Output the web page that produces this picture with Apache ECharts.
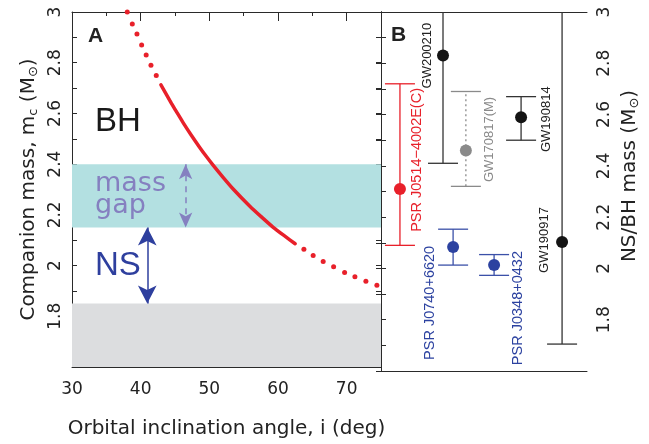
<!DOCTYPE html>
<html><head><meta charset="utf-8">
<script src="https://cdn.jsdelivr.net/npm/echarts@6/dist/echarts.min.js"></script>
<style>html,body{margin:0;padding:0;background:#fff}#c{width:649px;height:444px}</style>
</head><body><div id="c"></div>
<script>
// ---- Panel A data ----
const xTicksA = [30, 40, 50, 60, 70];
const yTickLabels = [1.8, 2, 2.2, 2.4, 2.6, 2.8, 3];
const massGapBand = [2.15, 2.4];
const excludedBand = [1.6, 1.85];
const nsRange = [1.85, 2.15];
const curveUpperDotted = [[38.05,3.0],[38.78,2.953],[39.46,2.913],[40.14,2.87],[40.8,2.83],[41.5,2.79],[42.27,2.75]];
const curveSolid = [[42.95,2.713],[44.5,2.639],[45.3,2.603],[46.2,2.563],[47.4,2.513],[48.6,2.466],[49.6,2.429],[50.6,2.394],[52.0,2.348],[53.5,2.301],[55.9,2.234],[57.5,2.194],[59.3,2.151],[61.0,2.116],[62.5,2.086]];
const curveLowerDotted = [[63.77,2.064],[65.12,2.04],[66.58,2.016],[68.1,1.995],[69.7,1.973],[71.2,1.956],[72.8,1.938],[74.4,1.922]];
const gapArrowX = 46.55;
const nsArrowX = 40.96;

// ---- Panel B data ----
const objNames = ['PSR J0514\u22124002E(C)','GW200210','GW170817(M)','PSR J0740+6620','PSR J0348+0432','GW190814','GW190917'];
const objType  = ['psrC','gw','gwM','psr','psr','gw','gw'];
const objPos   = [9.2, 30.1, 41.2, 35.0, 54.9, 68.0, 87.9];
const objMass  = [2.31, 2.83, 2.46, 2.084, 2.013, 2.59, 2.103];
const objLow   = [2.09, 2.41, 2.32, 2.013, 1.973, 2.50, 1.705];
const objHigh  = [2.72, 3.30, 2.69, 2.153, 2.054, 2.67, 3.60];

// ---- styles / layout (not data) ----
const FONT = 'Liberation Sans';
const TFONT = 'DejaVu Sans';
const typeStyle = {
  psrC: {mark:'#e8202a', bar:'#e8202a', text:'#e8202a', dash:null, fs:14.5},
  gw:   {mark:'#141414', bar:'#333333', text:'#222222', dash:null, fs:13},
  gwM:  {mark:'#8a8a8a', bar:'#8a8a8a', text:'#8a8a8a', dash:[2,3], fs:13},
  psr:  {mark:'#2c42a0', bar:'#3b50a8', text:'#2c42a0', dash:null, fs:14.5}
};
// label offsets in pixels relative to the marker
const labelOffset = [[17.5,-29],[-16,0],[24,-11],[-23,56],[24,43],[25,2],[-18,-2]];

const axisColor = '#2a2a2a';
const chart = echarts.init(document.getElementById('c'), null, {renderer:'canvas'});

const yBase = {
  min:1.6, max:3, interval:0.2, type:'value',
  axisLine:{show:true, lineStyle:{color:axisColor, width:1}},
  axisTick:{show:true, inside:true, length:5, lineStyle:{color:axisColor}},
  minorTick:{show:true, splitNumber:2, length:5, lineStyle:{color:axisColor}},
  splitLine:{show:false}, minorSplitLine:{show:false}
};
const yFmt = v=>{const r=Math.round(v*10)/10; return yTickLabels.includes(r)?String(r):'';};

const option = {
  animation:false,
  textStyle:{fontFamily:FONT},
  grid:[{left:72, top:12, width:309, height:359}, {left:381, top:12, width:206, height:359}],
  xAxis:[
    {gridIndex:0, type:'value', min:30, max:75, interval:10, position:'bottom',
     axisLine:{lineStyle:{color:axisColor}},
     axisTick:{inside:true, length:9, lineStyle:{color:axisColor}},
     minorTick:{show:true, splitNumber:2, length:4, lineStyle:{color:axisColor}},
     splitLine:{show:false},
     axisLabel:{fontSize:17, color:'#222', margin:14, showMaxLabel:false, fontFamily:TFONT,
       formatter:v=> xTicksA.includes(v) ? String(v) : ''},
     name:'Orbital inclination angle, i (deg)', nameLocation:'middle', nameGap:52,
     nameTextStyle:{fontSize:20, color:'#222', fontFamily:TFONT}},
    {gridIndex:0, type:'value', min:30, max:75, interval:10, position:'top',
     axisLine:{lineStyle:{color:axisColor}},
     axisTick:{inside:true, length:9, lineStyle:{color:axisColor}},
     minorTick:{show:true, splitNumber:2, length:4, lineStyle:{color:axisColor}},
     splitLine:{show:false}, axisLabel:{show:false}},
    {gridIndex:1, type:'value', min:0, max:100, position:'bottom',
     axisLine:{lineStyle:{color:axisColor}}, axisTick:{show:false}, axisLabel:{show:false}, splitLine:{show:false}},
    {gridIndex:1, type:'value', min:0, max:100, position:'top',
     axisLine:{lineStyle:{color:axisColor}}, axisTick:{show:false}, axisLabel:{show:false}, splitLine:{show:false}}
  ],
  yAxis:[
    Object.assign({}, yBase, {gridIndex:0, position:'left',
      axisLabel:{rotate:90, fontSize:17, color:'#222', margin:8, showMinLabel:false, fontFamily:TFONT, formatter:yFmt},
      name:'Companion mass, m{s|c} (M{s|\u2299})', nameLocation:'middle', nameGap:32, nameRotate:90,
      nameTextStyle:{fontSize:20, color:'#222', fontFamily:TFONT,
        rich:{s:{fontSize:13, color:'#222', fontFamily:TFONT, padding:[10,0,0,0]}}}}),
    Object.assign({}, yBase, {gridIndex:0, position:'right', axisLabel:{show:false}}),
    Object.assign({}, yBase, {gridIndex:1, position:'left', axisLabel:{show:false}}),
    Object.assign({}, yBase, {gridIndex:1, position:'right',
      axisLabel:{rotate:90, fontSize:17, color:'#222', margin:9, showMinLabel:false, fontFamily:TFONT, formatter:yFmt}})
  ],
  graphic:{elements:[
    {type:'text', z:100, x:88, y:36, style:{text:'A', font:'bold 21px "Liberation Sans"', fill:'#222', verticalAlign:'middle'}},
    {type:'text', z:100, x:391, y:35, style:{text:'B', font:'bold 21px "Liberation Sans"', fill:'#222', verticalAlign:'middle'}},
    {type:'text', z:100, x:95, y:122, style:{text:'BH', font:'33px "Liberation Sans"', fill:'#1a1a1a', verticalAlign:'middle'}},
    {type:'text', z:100, x:95, y:184, style:{text:'mass', font:'27px "DejaVu Sans"', fill:'#8580c0', verticalAlign:'middle'}},
    {type:'text', z:100, x:95, y:206, style:{text:'gap', font:'27px "DejaVu Sans"', fill:'#8580c0', verticalAlign:'middle'}},
    {type:'text', z:100, x:95, y:266, style:{text:'NS', font:'33px "Liberation Sans"', fill:'#2e3f9e', verticalAlign:'middle'}},
    {type:'text', z:100, x:630, y:176, rotation:Math.PI/2,
     style:{text:'NS/BH mass (M{s|\u2299})', font:'20px "DejaVu Sans"', fill:'#222', align:'center', verticalAlign:'middle',
       rich:{s:{fontSize:13, fontFamily:TFONT, fill:'#222', padding:[10,0,0,0]}}}}
  ]},
  series:[
    {type:'line', xAxisIndex:0, yAxisIndex:0, data:[], silent:true, z:1,
     markArea:{silent:true, itemStyle:{color:'#b3e0e1'}, data:[[{xAxis:30, yAxis:massGapBand[0]},{xAxis:75, yAxis:massGapBand[1]}]]}},
    {type:'line', xAxisIndex:0, yAxisIndex:0, data:[], silent:true, z:1,
     markArea:{silent:true, itemStyle:{color:'#dcdddf'}, data:[[{xAxis:30, yAxis:excludedBand[0]},{xAxis:75, yAxis:excludedBand[1]}]]}},
    {type:'line', xAxisIndex:0, yAxisIndex:0, data:[], silent:true,
     markLine:{silent:true, symbol:['arrow','arrow'], symbolSize:[10,15], label:{show:false},
       lineStyle:{color:'#8580c0', width:1.5, type:[6,5]},
       data:[[{coord:[gapArrowX, massGapBand[1]]},{coord:[gapArrowX, massGapBand[0]]}]]}},
    {type:'line', xAxisIndex:0, yAxisIndex:0, data:[], silent:true,
     markLine:{silent:true, symbol:['arrow','arrow'], symbolSize:[14,18], label:{show:false},
       lineStyle:{color:'#2e3f9e', width:1.5, type:'solid'},
       data:[[{coord:[nsArrowX, nsRange[1]]},{coord:[nsArrowX, nsRange[0]]}]]}},
    {type:'line', xAxisIndex:0, yAxisIndex:0, data:curveSolid, smooth:0.2, showSymbol:false,
     lineStyle:{color:'#e8202a', width:3.5, cap:'round'}, z:5},
    {type:'scatter', xAxisIndex:0, yAxisIndex:0, data:curveUpperDotted.concat(curveLowerDotted),
     symbol:'circle', symbolSize:5, itemStyle:{color:'#e8202a', opacity:1}, z:5},
    {type:'custom', xAxisIndex:2, yAxisIndex:2, clip:true, z:3,
     data:objPos.map((p,i)=>[p, objLow[i], objHigh[i], objMass[i]]),
     renderItem:function(params, api){
       const i = params.dataIndex;
       const x = api.value(0);
       const pLo = api.coord([x, api.value(1)]);
       const pHi = api.coord([x, api.value(2)]);
       const st = typeStyle[objType[i]];
       const cw = 15;
       return {type:'group', children:[
         {type:'line', shape:{x1:pLo[0], y1:pLo[1], x2:pHi[0], y2:pHi[1]}, style:{stroke:st.bar, lineWidth:1.3, lineDash:st.dash}},
         {type:'line', shape:{x1:pLo[0]-cw, y1:pLo[1], x2:pLo[0]+cw, y2:pLo[1]}, style:{stroke:st.bar, lineWidth:1.3}},
         {type:'line', shape:{x1:pHi[0]-cw, y1:pHi[1], x2:pHi[0]+cw, y2:pHi[1]}, style:{stroke:st.bar, lineWidth:1.3}}
       ]};
     }},
    {type:'custom', xAxisIndex:2, yAxisIndex:2, z:4,
     data:objPos.map((p,i)=>[p, objMass[i]]),
     renderItem:function(params, api){
       const i = params.dataIndex;
       const pt = api.coord([api.value(0), api.value(1)]);
       const st = typeStyle[objType[i]];
       return {type:'text', x:pt[0]+labelOffset[i][0], y:pt[1]+labelOffset[i][1], rotation:Math.PI/2,
         style:{text:objNames[i], fill:st.text, fontSize:st.fs, fontFamily:FONT, align:'center', verticalAlign:'middle'}};
     }},
    {type:'scatter', xAxisIndex:2, yAxisIndex:2, z:6, symbol:'circle', symbolSize:12,
     data:objPos.map((p,i)=>({value:[p, objMass[i]], itemStyle:{color:typeStyle[objType[i]].mark, opacity:1}}))}
  ]
};
chart.setOption(option);
</script>
</body></html>
